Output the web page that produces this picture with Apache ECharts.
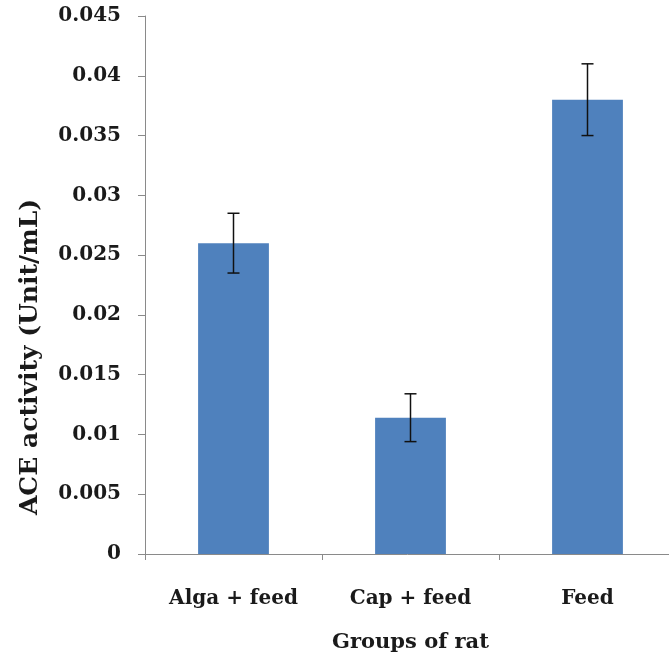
<!DOCTYPE html>
<html>
<head>
<meta charset="utf-8">
<script src="https://cdn.jsdelivr.net/npm/echarts@6/dist/echarts.min.js"></script>
<style>
  html, body { margin: 0; padding: 0; background: #fff; }
  #chart { width: 669px; height: 659px; }
</style>
</head>
<body>
<div id="chart"></div>
<script>
// Groups of rat and their mean ACE activity (Unit/mL)
const categories = ['Alga + feed', 'Cap + feed', 'Feed'];
const aceActivity = [0.026, 0.0114, 0.038];
// Error bar half-widths
const aceError = [0.0025, 0.002, 0.003];
// Y axis range and step
const yMin = 0;
const yMax = 0.045;
const yStep = 0.005;

const FONT = '"DejaVu Serif", "Liberation Serif", serif';
const AXIS_GREY = '#8a8a8a';

const errorData = aceActivity.map((v, i) => [i, v - aceError[i], v + aceError[i]]);

const chart = echarts.init(document.getElementById('chart'), null, { renderer: 'canvas' });

chart.setOption({
  backgroundColor: '#ffffff',
  animation: false,
  grid: {
    left: 145,
    top: 16,
    width: 531,
    height: 538,
    containLabel: false,
    outerBoundsMode: 'none'
  },
  xAxis: {
    type: 'category',
    data: categories,
    boundaryGap: true,
    name: 'Groups of rat',
    nameLocation: 'middle',
    nameGap: 78,
    nameTextStyle: { fontFamily: FONT, fontWeight: 'bold', fontSize: 21, color: '#1a1a1a' },
    axisLine: { lineStyle: { color: AXIS_GREY, width: 1 } },
    axisTick: { show: true, length: 6, lineStyle: { color: AXIS_GREY } },
    axisLabel: { margin: 35, fontFamily: FONT, fontWeight: 'bold', fontSize: 20, color: '#1a1a1a' }
  },
  yAxis: {
    type: 'value',
    min: yMin,
    max: yMax,
    interval: yStep,
    name: 'ACE activity (Unit/mL)',
    nameLocation: 'middle',
    nameGap: 102,
    nameTextStyle: {
      fontFamily: FONT, fontWeight: 'bold', fontSize: 25, color: '#1a1a1a',
      padding: [0, 144, 0, 0]
    },
    splitLine: { show: false },
    axisLine: { show: true, lineStyle: { color: AXIS_GREY, width: 1 } },
    axisTick: { show: true, length: 7, lineStyle: { color: AXIS_GREY } },
    axisLabel: {
      margin: 24,
      fontFamily: FONT, fontWeight: 'bold', fontSize: 20, color: '#1a1a1a',
      formatter: v => String(parseFloat(v.toFixed(3)))
    }
  },
  series: [
    {
      type: 'bar',
      data: aceActivity,
      barWidth: '40%',
      itemStyle: { color: '#4F81BD' }
    },
    {
      type: 'custom',
      data: errorData,
      z: 10,
      renderItem: function (params, api) {
        const i = api.value(0);
        const lo = api.coord([i, api.value(1)]);
        const hi = api.coord([i, api.value(2)]);
        const cap = 6;
        const style = { stroke: '#111', lineWidth: 1.5 };
        return {
          type: 'group',
          children: [
            { type: 'line', shape: { x1: hi[0], y1: hi[1], x2: lo[0], y2: lo[1] }, style: style },
            { type: 'line', shape: { x1: hi[0] - cap, y1: hi[1], x2: hi[0] + cap, y2: hi[1] }, style: style },
            { type: 'line', shape: { x1: lo[0] - cap, y1: lo[1], x2: lo[0] + cap, y2: lo[1] }, style: style }
          ]
        };
      }
    }
  ]
});
</script>
</body>
</html>
